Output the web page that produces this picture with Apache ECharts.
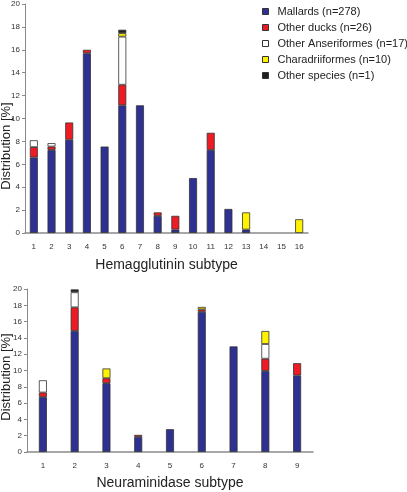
<!DOCTYPE html>
<html><head><meta charset="utf-8">
<script src="https://cdn.jsdelivr.net/npm/echarts@6/dist/echarts.min.js"></script>
<style>html,body{margin:0;padding:0;background:#fff}#c{width:407px;height:492px}</style>
</head><body><div id="c"></div>
<script>
const haCategories = ['1','2','3','4','5','6','7','8','9','10','11','12','13','14','15','16'];
const naCategories = ['1','2','3','4','5','6','7','8','9'];
const seriesNames = ['Mallards (n=278)','Other ducks (n=26)','Other Anseriformes (n=17)','Charadriiformes (n=10)','Other species (n=1)'];
const seriesColors = ['#2e3192','#ed1c24','#ffffff','#fff200','#231f20'];
const yTicks = [0,2,4,6,8,10,12,14,16,18,20];

// Hemagglutinin subtype (%)
const haMallards   = [6.6, 7.25, 8.15, 15.7, 7.55, 11.15, 11.15, 1.5, 0.3, 4.8, 7.25, 2.1, 0.3, null, null, null];
const haOtherDucks = [0.9, 0.3, 1.5, 0.3, null, 1.8, null, 0.3, 1.2, null, 1.5, null, null, null, null, null];
const haOtherAns   = [0.6, 0.3, null, null, null, 4.2, null, null, null, null, null, null, null, null, null, null];
const haCharadr    = [null, null, null, null, null, 0.3, null, null, null, null, null, null, 1.5, null, null, 1.2];
const haOtherSp    = [null, null, null, null, null, 0.3, null, null, null, null, null, null, null, null, null, null];

// Neuraminidase subtype (%)
const naMallards   = [6.75, 14.85, 8.45, 1.85, 2.8, 17.2, 12.95, 9.95, 9.4];
const naOtherDucks = [0.55, 2.9, 0.6, 0.25, null, 0.3, null, 1.5, 1.5];
const naOtherAns   = [1.5, 1.85, null, null, null, null, null, 1.8, null];
const naCharadr    = [null, null, 1.2, null, null, 0.3, null, 1.6, null];
const naOtherSp    = [null, 0.35, null, null, null, null, null, null, null];

const haData = [haMallards, haOtherDucks, haOtherAns, haCharadr, haOtherSp];
const naData = [naMallards, naOtherDucks, naOtherAns, naCharadr, naOtherSp];

const FONT = 'Liberation Sans, Arial, sans-serif';
const axisGrey = '#8a8a8a';

function yAxis(gi){
  return {type:'value', gridIndex:gi, min:yTicks[0], max:yTicks[yTicks.length-1], interval:2,
    axisLine:{show:true, lineStyle:{color:axisGrey, width:1}},
    axisTick:{show:true, length:3, lineStyle:{color:axisGrey}},
    splitLine:{show:false},
    axisLabel:{fontSize:8, color:'#333', fontFamily:FONT, margin:5}};
}
function xAxis(gi, cats, name, gap){
  return {type:'category', gridIndex:gi, data:cats,
    axisLine:{show:true, lineStyle:{color:axisGrey, width:1.5}},
    axisTick:{show:false},
    axisLabel:{fontSize:8, color:'#333', fontFamily:FONT, margin:10},
    name:name, nameLocation:'middle', nameGap:gap,
    nameTextStyle:{fontSize:14, color:'#222', fontFamily:FONT}};
}
const series = [];
seriesNames.forEach((n,i)=>{
  series.push({name:n, type:'bar', stack:'ha', xAxisIndex:0, yAxisIndex:0, barWidth:8,
    data:haData[i], itemStyle:{color:seriesColors[i], borderColor:'#333', borderWidth:0.8}});
});
seriesNames.forEach((n,i)=>{
  series.push({name:n, type:'bar', stack:'na', xAxisIndex:1, yAxisIndex:1, barWidth:8,
    data:naData[i], itemStyle:{color:seriesColors[i], borderColor:'#333', borderWidth:0.8}});
});

const chart = echarts.init(document.getElementById('c'), null, {renderer:'canvas'});
chart.setOption({
  animation:false,
  backgroundColor:'#fff',
  textStyle:{fontFamily:FONT},
  grid:[
    {left:25, top:3, width:283, height:230},
    {left:27, top:289, width:286, height:163}
  ],
  xAxis:[xAxis(0, haCategories, 'Hemagglutinin subtype', 25), xAxis(1, naCategories, 'Neuraminidase subtype', 24)],
  yAxis:[yAxis(0), yAxis(1)],
  legend:{orient:'vertical', left:262, top:5, padding:0, itemWidth:6, itemHeight:6, itemGap:3,
    icon:'rect', data:seriesNames,
    itemStyle:{borderColor:'#333', borderWidth:1},
    textStyle:{fontSize:11, color:'#222', fontFamily:FONT, lineHeight:13, padding:[0,0,0,4]}},
  graphic:[
    {type:'text', x:6, y:146, rotation:Math.PI/2,
      style:{text:'Distribution [%]', font:'13px Liberation Sans, Arial, sans-serif', fill:'#222', align:'center', verticalAlign:'middle'}},
    {type:'text', x:6, y:377, rotation:Math.PI/2,
      style:{text:'Distribution [%]', font:'13px Liberation Sans, Arial, sans-serif', fill:'#222', align:'center', verticalAlign:'middle'}}
  ],
  series:series
});
</script></body></html>
